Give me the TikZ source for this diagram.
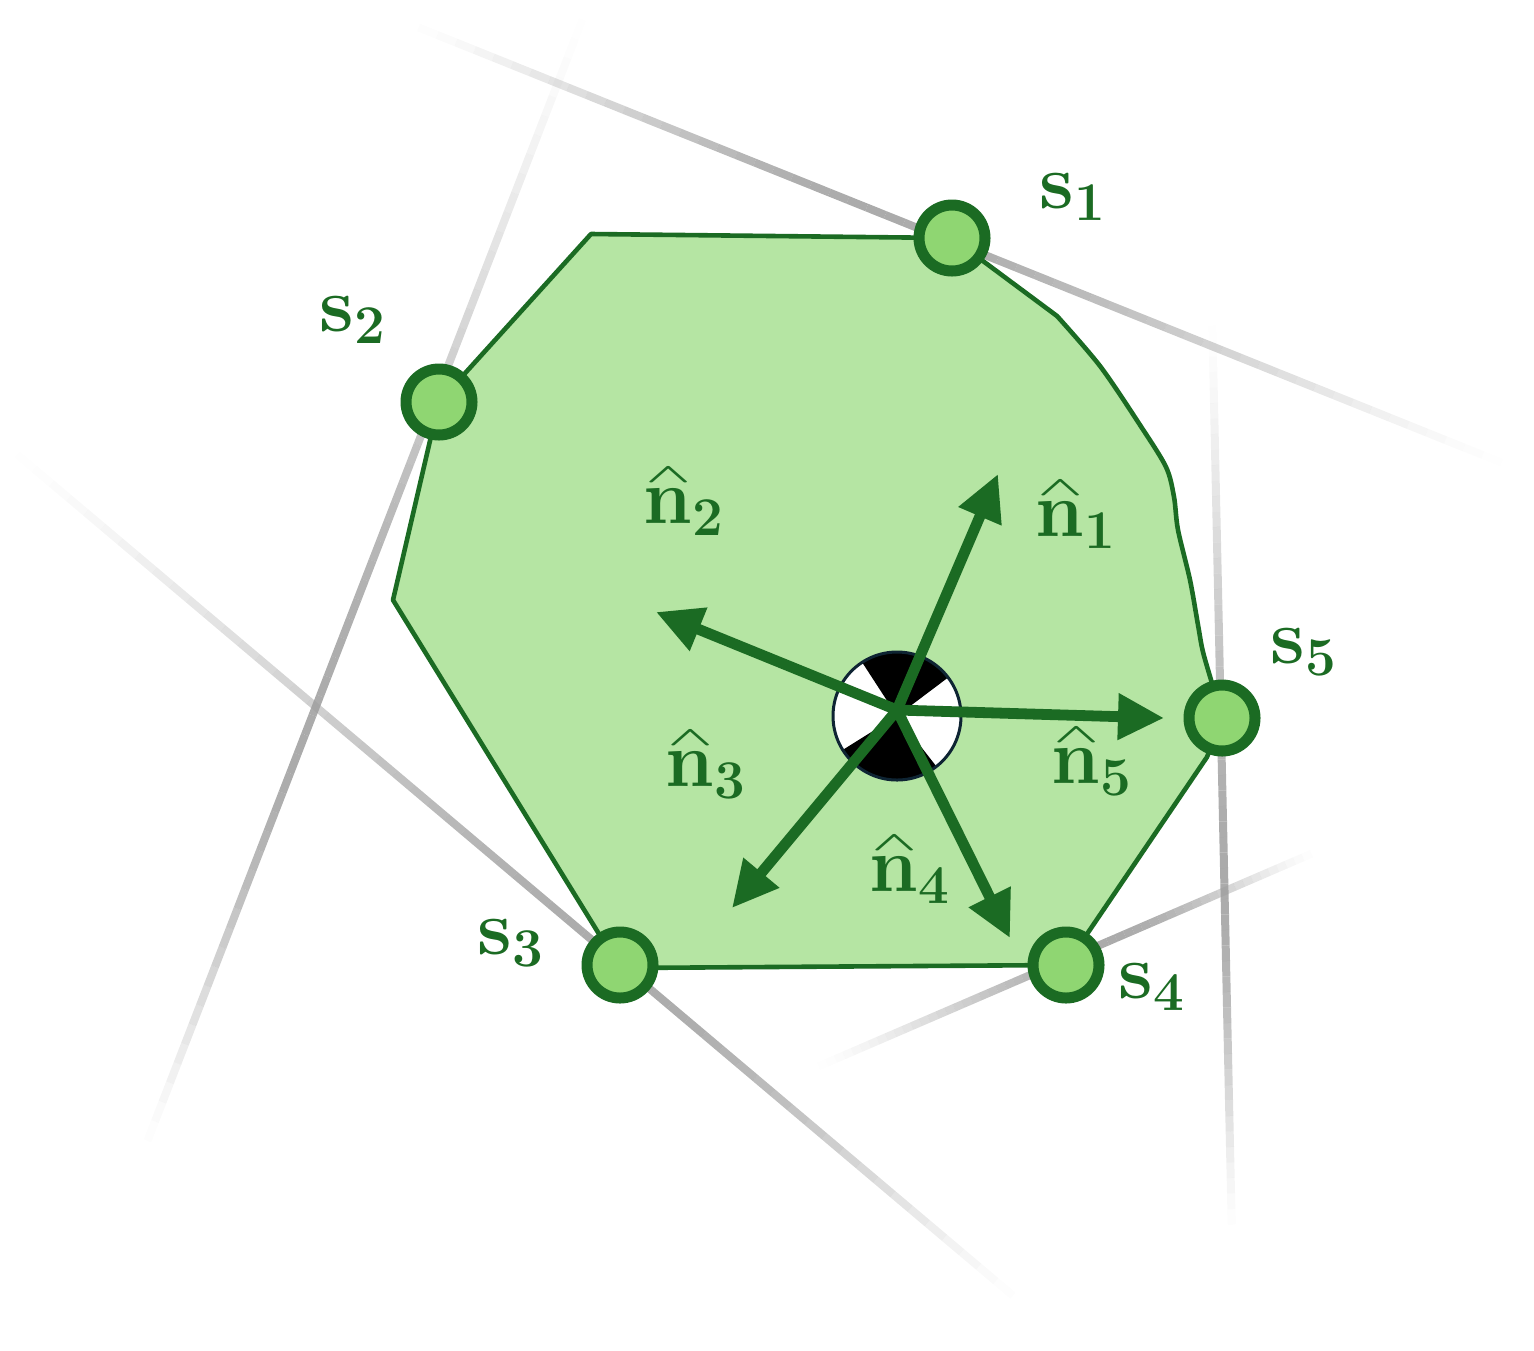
\RequirePackage{fix-cm}
\documentclass[tikz,border=0pt]{standalone}
\usepackage{graphicx}
\usetikzlibrary{arrows.meta}
\definecolor{dg}{HTML}{1B6B23}
\definecolor{polyfill}{HTML}{B5E5A3}
\definecolor{nodefill}{HTML}{8FD672}
\definecolor{lg}{HTML}{9C9C9C}
\definecolor{navy}{HTML}{0E2433}
\newcommand{\fadeline}[5]{%
 \foreach \i in {0,...,59}{%
   \pgfmathsetmacro{\ta}{\i/60}%
   \pgfmathsetmacro{\tb}{(\i+1)/60}%
   \pgfmathsetmacro{\tm}{(\i+0.5)/60}%
   \pgfmathsetmacro{\op}{0.85*(\tm<#5 ? sin(90*\tm/#5) : sin(90*(1-\tm)/(1-#5)))^1.6}%
   \draw[line width=4pt, lg, opacity=\op] ({#1+(#3-#1)*\ta},{#2+(#4-#2)*\ta}) -- ({#1+(#3-#1)*\tb},{#2+(#4-#2)*\tb});
 }}
\newcommand{\nhat}{\ooalign{$\mathbf{n}$\cr\hidewidth\raisebox{0.53em}{\resizebox{0.58em}{0.19em}{$\wedge$}}\hidewidth\cr}}
\tikzset{
  arr/.style={dg, line width=5.4pt, -{Triangle[length=23pt,width=22pt]}},
  lbl/.style={text=dg, inner sep=0pt, font=\fontsize{39}{46}\selectfont\boldmath},
  spt/.style={circle, draw=dg, fill=nodefill, line width=5.5pt, minimum size=33pt, inner sep=0pt}
}
\begin{document}
\begin{tikzpicture}[x=0.5pt,y=-0.5pt]
\useasboundingbox (0,0) rectangle (1534,1350);
% supporting lines
\fadeline{400}{20}{1520}{470}{0.42}
\fadeline{590}{0}{140}{1160}{0.64}
\fadeline{0}{440}{1030}{1310}{0.62}
\fadeline{810}{1070}{1320}{850}{0.6}
\fadeline{1212}{310}{1232}{1240}{0.62}
% polygon
\draw[dg, line width=2.3pt, fill=polyfill, line join=round]
  (591,234) -- (952,238) -- (1057,316)
  -- plot[smooth, tension=0.5] coordinates {(1057,316) (1100,366) (1140,425) (1166,467) (1174,497) (1178,530) (1190,580) (1198,625) (1203,652) (1214,690) (1222,718)}
  -- (1207,757) -- (1066,965) -- (620,968) -- (393,600) -- (439,402) -- cycle;
% centre of mass symbol
\node[circle, minimum size=64pt, inner sep=0pt, fill=white] (com) at (897,716) {};
\fill[black] (com.center) -- ++(37:32pt) arc[start angle=37,end angle=123,radius=32pt] -- cycle;
\fill[black] (com.center) -- ++(212:32pt) arc[start angle=212,end angle=308,radius=32pt] -- cycle;
\draw[navy, line width=1.5pt] (com.center) circle[radius=32pt];
% arrows
\coordinate (o) at (897,710);
\coordinate (t1) at (998,474);
\coordinate (t2) at (656,612);
\coordinate (t3) at (732,908);
\coordinate (t4) at (1010,938);
\coordinate (t5) at (1164,718);
\draw[arr] (o) -- (t1);
\draw[arr] (o) -- (t2);
\draw[arr] (o) -- (t3);
\draw[arr] (o) -- (t4);
\draw[arr] (o) -- (t5);
% support points
\node[spt] (s1) at (952,238) {};
\node[spt] (s2) at (439,402) {};
\node[spt] (s3) at (620,965) {};
\node[spt] (s4) at (1066,965) {};
\node[spt] (s5) at (1222,718) {};
% labels
\node[lbl] (ls1) at (1073,197) {$\mathbf{s}_{\mathbf{1}}$};
\node[lbl] (ls2) at (353,320) {$\mathbf{s}_{\mathbf{2}}$};
\node[lbl] (ls3) at (511,943) {$\mathbf{s}_{\mathbf{3}}$};
\node[lbl] (ls4) at (1152,987) {$\mathbf{s}_{\mathbf{4}}$};
\node[lbl] (ls5) at (1304,652) {$\mathbf{s}_{\mathbf{5}}$};
\node[lbl] (ln1) at (1076,525) {$\mbox{\nhat}_{\mathbf{1}}$};
\node[lbl] (ln2) at (684,512) {$\mbox{\nhat}_{\mathbf{2}}$};
\node[lbl] (ln3) at (706,775) {$\mbox{\nhat}_{\mathbf{3}}$};
\node[lbl] (ln4) at (910,880) {$\mbox{\nhat}_{\mathbf{4}}$};
\node[lbl] (ln5) at (1092,772) {$\mbox{\nhat}_{\mathbf{5}}$};
\end{tikzpicture}
\end{document}
